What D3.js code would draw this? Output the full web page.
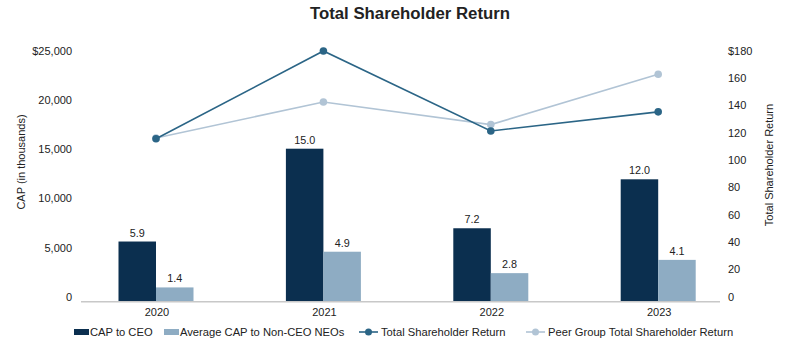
<!DOCTYPE html>
<html lang="en">
<head>
  <meta charset="UTF-8">
  <title>Total Shareholder Return</title>
  <style>
    body { margin: 0; background: #fff; font-family: "Liberation Sans", Arial, Helvetica, sans-serif; }
    svg text { fill: #222; }
    .tick-label { font-size: 11px; }
    .value-label { font-size: 10.8px; }
    .year-label { font-size: 11px; }
    .axis-title { font-size: 11px; }
    .legend text { font-size: 11.2px; }
    .title { font-size: 16.8px; font-weight: bold; }
  </style>
</head>
<body>
<script src="https://d3js.org/d3.v7.min.js"></script>
<script>
// data
const years = ['2020', '2021', '2022', '2023']
const capToCeo = [5900, 15000, 7200, 12000]          // in thousands
const avgCapNonCeo = [1400, 4900, 2800, 4100]
const tsr = [115, 177, 120.5, 134]
const peerTsr = [115.5, 141, 125, 160.5]
const leftTicks = [0, 5000, 10000, 15000, 20000, 25000]
const rightTicks = [0, 20, 40, 60, 80, 100, 120, 140, 160, 180]

const width = 795
const height = 343

const colors = {
  ceo: '#0b2f4f',
  nonCeo: '#8eacc3',
  tsr: '#2b6586',
  peer: '#b1c4d5'
}

const svg = d3.select('body').append('svg')
  .attr('width', width)
  .attr('height', height)

const x = d3.scalePoint().domain(years).range([72.3, 741.9]).padding(0.5)
const xSub = d3.scaleBand().domain(['ceo', 'nonCeo']).range([-37.5, 37.5])
const yLeft = d3.scaleLinear().domain([0, 25000]).range([301.7, 46.7])
const yRight = d3.scaleLinear().domain([0, 180]).range([301.7, 46.7])
// the tick labels in the source sit on a slightly tighter grid than the marks
const yLeftLabel = d3.scaleLinear().domain([0, 25000]).range([297, 50.7])
const yRightLabel = d3.scaleLinear().domain([0, 180]).range([297, 50.7])

// title
svg.append('text')
  .attr('class', 'title')
  .attr('x', 410).attr('y', 19)
  .attr('text-anchor', 'middle')
  .text('Total Shareholder Return')

svg.append('g').selectAll('text')
  .data(leftTicks)
  .join('text')
  .attr('class', 'tick-label')
  .attr('x', 72)
  .attr('y', d => yLeftLabel(d))
  .attr('dy', '0.35em')
  .attr('text-anchor', 'end')
  .text(d => d === 25000 ? '$' + d3.format(',')(d) : d3.format(',')(d))

svg.append('g').selectAll('text')
  .data(rightTicks)
  .join('text')
  .attr('class', 'tick-label')
  .attr('x', 728)
  .attr('y', d => yRightLabel(d))
  .attr('dy', '0.35em')
  .text(d => d === 180 ? '$' + d : d)

// axis titles
svg.append('text')
  .attr('class', 'axis-title')
  .attr('transform', 'translate(25,162) rotate(-90)')
  .attr('text-anchor', 'middle')
  .text('CAP (in thousands)')

svg.append('text')
  .attr('class', 'axis-title')
  .attr('transform', 'translate(773,165) rotate(-90)')
  .attr('text-anchor', 'middle')
  .text('Total Shareholder Return')

// bars
const barData = years.map((yr, i) => [
  { year: yr, key: 'ceo', value: capToCeo[i] },
  { year: yr, key: 'nonCeo', value: avgCapNonCeo[i] }
]).flat()

svg.append('g').selectAll('rect')
  .data(barData)
  .join('rect')
  .attr('x', d => x(d.year) + xSub(d.key))
  .attr('width', xSub.bandwidth())
  .attr('y', d => yLeft(d.value))
  .attr('height', d => yLeft(0) - yLeft(d.value))
  .attr('fill', d => colors[d.key])

svg.append('g').selectAll('text')
  .data(barData)
  .join('text')
  .attr('class', 'value-label')
  .attr('x', d => x(d.year) + xSub(d.key) + xSub.bandwidth() / 2)
  .attr('y', d => yLeft(d.value) - 5)
  .attr('text-anchor', 'middle')
  .text(d => (d.value / 1000).toFixed(1))

// baseline
svg.append('line')
  .attr('x1', 81).attr('x2', 720)
  .attr('y1', yLeft(0)).attr('y2', yLeft(0))
  .attr('stroke', '#c8c8c8')
  .attr('stroke-width', 1.5)

svg.append('g').selectAll('text')
  .data(years)
  .join('text')
  .attr('class', 'year-label')
  .attr('x', d => x(d) + 1)
  .attr('y', 312)
  .attr('dy', '0.35em')
  .attr('text-anchor', 'middle')
  .text(d => d)

// lines
const lineGen = d3.line()
  .x(d => x(d.year))
  .y(d => yRight(d.value))

;[
  { values: peerTsr, color: colors.peer },
  { values: tsr, color: colors.tsr }
].forEach(s => {
  const pts = years.map((yr, i) => ({ year: yr, value: s.values[i] }))
  svg.append('path')
    .datum(pts)
    .attr('d', lineGen)
    .attr('fill', 'none')
    .attr('stroke', s.color)
    .attr('stroke-width', 1.6)
  svg.append('g').selectAll('circle')
    .data(pts)
    .join('circle')
    .attr('cx', d => x(d.year))
    .attr('cy', d => yRight(d.value))
    .attr('r', 3.8)
    .attr('fill', s.color)
})

// legend
const legend = svg.append('g').attr('class', 'legend')
const ly = 332

const legendItems = [
  { label: 'CAP to CEO', color: colors.ceo, type: 'rect', x: 74 },
  { label: 'Average CAP to Non-CEO NEOs', color: colors.nonCeo, type: 'rect', x: 164 },
  { label: 'Total Shareholder Return', color: colors.tsr, type: 'line', x: 359 },
  { label: 'Peer Group Total Shareholder Return', color: colors.peer, type: 'line', x: 526 }
]

legendItems.forEach(item => {
  const g = legend.append('g').attr('transform', `translate(${item.x},${ly})`)
  if (item.type === 'rect') {
    g.append('rect')
      .attr('x', 0).attr('y', -3)
      .attr('width', 15).attr('height', 6)
      .attr('fill', item.color)
    g.append('text').attr('x', 16).attr('dy', '0.35em').text(item.label)
  } else {
    g.append('line')
      .attr('x1', 0).attr('x2', 19)
      .attr('stroke', item.color).attr('stroke-width', 1.6)
    g.append('circle').attr('cx', 9.5).attr('r', 3.5).attr('fill', item.color)
    g.append('text').attr('x', 22).attr('dy', '0.35em').text(item.label)
  }
})
</script>
</body>
</html>
